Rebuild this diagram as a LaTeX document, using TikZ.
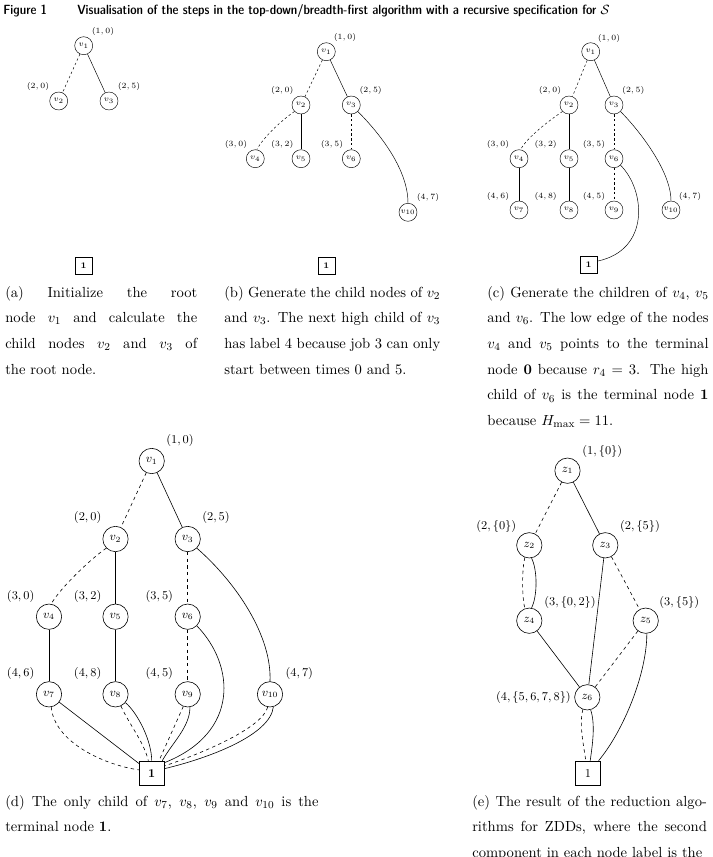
\documentclass[tikz,border=0pt]{standalone}
\usepackage{amsmath}
\begin{document}
\begin{tikzpicture}[x=0.75pt,y=-0.75pt,
  sv/.style={circle,draw,line width=0.35pt,minimum size=13.5pt,inner sep=0pt,font=\fontsize{6.4}{7}\selectfont},
  sl/.style={font=\fontsize{6.4}{7}\selectfont,inner sep=0pt},
  st/.style={draw,line width=0.35pt,minimum size=12.75pt,inner sep=0pt,font=\fontsize{6.4}{7}\selectfont\bfseries},
  bv/.style={circle,draw,line width=0.45pt,minimum size=19pt,inner sep=0pt,font=\fontsize{9}{10}\selectfont},
  bl/.style={font=\fontsize{9}{10}\selectfont,inner sep=0pt},
  bt/.style={draw,line width=0.45pt,minimum size=18.5pt,inner sep=0pt,font=\fontsize{9}{10}\selectfont},
  slo/.style={line width=0.35pt,dash pattern=on 1.8pt off 1.8pt},
  shi/.style={line width=0.35pt},
  blo/.style={line width=0.45pt,dash pattern=on 2.5pt off 2.5pt},
  bhi/.style={line width=0.45pt},
  captxt/.style={anchor=base west,inner sep=0pt,align=justify,font=\fontsize{10.95}{19.3}\selectfont},
  ttl/.style={anchor=base west,inner sep=0pt,font=\fontseries{sbc}\sffamily\fontsize{10}{12}\selectfont}
]
\useasboundingbox (0,0) rectangle (713,857);
\clip (0,0) rectangle (713,857);

% title
\node[ttl] (fig) at (3,14) {Figure 1};
\node[ttl] (title) at (77,14) {Visualisation of the steps in the top-down/breadth-first algorithm with a recursive specification for $\mathcal{S}$};

% ---------- panel (a)
\node[sv] (a1) at (83.7,45.7) {$v_1$};
\node[sv] (a2) at (58.7,101) {$v_2$};
\node[sv] (a3) at (109,101) {$v_3$};
\node[st] (aT) at (83.7,265.7) {1};
\node[sl] (la1) at (103,31) {$(1,0)$};
\node[sl] (la2) at (38,86.7) {$(2,0)$};
\node[sl] (la3) at (129,86.7) {$(2,5)$};
\draw[slo] (a1) -- (a2);
\draw[shi] (a1) -- (a3);

% ---------- panel (b)
\node[sv] (b1) at (326.3,51.7) {$v_1$};
\node[sv] (b2) at (301,105) {$v_2$};
\node[sv] (b3) at (351.3,105) {$v_3$};
\node[sv] (b4) at (255.3,158.7) {$v_4$};
\node[sv] (b5) at (301,158.7) {$v_5$};
\node[sv] (b6) at (351.3,158.7) {$v_6$};
\node[sv] (b10) at (408,212.3) {$v_{10}$};
\node[st] (bT) at (326.3,265.7) {1};
\node[sl] (lb1) at (345,37) {$(1,0)$};
\node[sl] (lb2) at (282.3,90.7) {$(2,0)$};
\node[sl] (lb3) at (370.7,90.7) {$(2,5)$};
\node[sl] (lb4) at (236,144) {$(3,0)$};
\node[sl] (lb5) at (282.3,144) {$(3,2)$};
\node[sl] (lb6) at (332,144) {$(3,5)$};
\node[sl] (lb10) at (428,197.7) {$(4,7)$};
\draw[slo] (b1) -- (b2);
\draw[shi] (b1) -- (b3);
\draw[slo] (b2.225) .. controls +(-12,8) and +(6,-12) .. (b4.80);
\draw[shi] (b2) -- (b5);
\draw[slo] (b3) -- (b6);
\draw[shi] (b3.-45) .. controls +(20,20) and +(0,-35) .. (b10.north);

% ---------- panel (c)
\node[sv] (c1) at (590.7,51.7) {$v_1$};
\node[sv] (c2) at (569,105) {$v_2$};
\node[sv] (c3) at (614,105) {$v_3$};
\node[sv] (c4) at (519,158.7) {$v_4$};
\node[sv] (c5) at (569,158.7) {$v_5$};
\node[sv] (c6) at (614,158.7) {$v_6$};
\node[sv] (c7) at (519,210) {$v_7$};
\node[sv] (c8) at (569,210) {$v_8$};
\node[sv] (c9) at (614,210) {$v_9$};
\node[sv] (c10) at (671,210) {$v_{10}$};
\node[st] (cT) at (588.7,264.3) {1};
\node[sl] (lc1) at (609,38.3) {$(1,0)$};
\node[sl] (lc2) at (550,90.3) {$(2,0)$};
\node[sl] (lc3) at (633.3,90.3) {$(2,5)$};
\node[sl] (lc4) at (498,144) {$(3,0)$};
\node[sl] (lc5) at (545.7,144) {$(3,2)$};
\node[sl] (lc6) at (594,144) {$(3,5)$};
\node[sl] (lc7) at (498,196.5) {$(4,6)$};
\node[sl] (lc8) at (545.7,196.5) {$(4,8)$};
\node[sl] (lc9) at (594,196.5) {$(4,5)$};
\node[sl] (lc10) at (690,196.5) {$(4,7)$};
\draw[slo] (c1) -- (c2);
\draw[shi] (c1) -- (c3);
\draw[slo] (c2.225) .. controls +(-12,8) and +(6,-12) .. (c4.80);
\draw[shi] (c2) -- (c5);
\draw[slo] (c3) -- (c6);
\draw[shi] (c3.-45) .. controls +(18,18) and +(0,-30) .. (c10.north);
\draw[shi] (c4) -- (c7);
\draw[shi] (c5) -- (c8);
\draw[slo] (c6) -- (c9);
\draw[shi] (c6.-45) .. controls +(25,25) and +(53,-11) .. (cT.20);

% ---------- captions (a)-(c)
\node[captxt,text width=144pt] (capa) at (5,297) {(a) Initialize the root\linebreak node $v_1$ and calculate the\linebreak child nodes $v_2$ and $v_3$ of\linebreak the root node.};
\node[captxt,text width=162pt] (capb) at (224,297) {(b) Generate the child nodes of $v_2$\linebreak and $v_3$. The next high child of $v_3$\linebreak has label 4 because job 3 can only\linebreak start between times 0 and 5.};
\node[captxt,text width=166pt] (capc) at (487,297) {(c) Generate the children of $v_4$, $v_5$\linebreak and $v_6$. The low edge of the nodes\linebreak $v_4$ and $v_5$ points to the terminal\linebreak node \textbf{0} because $r_4=3$. The high\linebreak child of $v_6$ is the terminal node \textbf{1}\linebreak because $H_{\max}=11$.};

% ---------- panel (d)
\node[bv] (d1) at (151.7,461) {$v_1$};
\node[bv] (d2) at (115.5,539) {$v_2$};
\node[bv] (d3) at (187.7,539) {$v_3$};
\node[bv] (d4) at (49,616.7) {$v_4$};
\node[bv] (d5) at (115.5,616.7) {$v_5$};
\node[bv] (d6) at (187.7,616.7) {$v_6$};
\node[bv] (d7) at (49,694.3) {$v_7$};
\node[bv] (d8) at (115.5,694.3) {$v_8$};
\node[bv] (d9) at (187.7,694.3) {$v_9$};
\node[bv] (d10) at (270,694.3) {$v_{10}$};
\node[bt] (dT) at (151.7,773.3) {\textbf{1}};
\node[bl] (ld1) at (180,440) {$(1,0)$};
\node[bl] (ld2) at (87.7,517.7) {$(2,0)$};
\node[bl] (ld3) at (216,517.7) {$(2,5)$};
\node[bl] (ld4) at (20.7,596) {$(3,0)$};
\node[bl] (ld5) at (87.7,596) {$(3,2)$};
\node[bl] (ld6) at (159.3,596) {$(3,5)$};
\node[bl] (ld7) at (20.7,673.7) {$(4,6)$};
\node[bl] (ld8) at (87.7,673.7) {$(4,8)$};
\node[bl] (ld9) at (159.3,673.7) {$(4,5)$};
\node[bl] (ld10) at (299.3,673.7) {$(4,7)$};
\draw[blo] (d1) -- (d2);
\draw[bhi] (d1) -- (d3);
\draw[blo] (d2.225) .. controls +(-15,10) and +(8,-15) .. (d4.80);
\draw[bhi] (d2) -- (d5);
\draw[blo] (d3) -- (d6);
\draw[bhi] (d3.-45) .. controls +(40,35) and +(2,-45) .. (d10.north);
\draw[bhi] (d4) -- (d7);
\draw[bhi] (d5) -- (d8);
\draw[blo] (d6) -- (d9);
\draw[bhi] (d6.-45) .. controls +(38,39) and +(76,-30) .. (dT.40);
\draw[blo] (d7.-80) .. controls +(3,35) and +(-35,-5) .. (dT.165);
\draw[bhi] (d7) -- (dT);
\draw[blo] (d8.-65) .. controls +(8,18) and +(-4,-18) .. (dT.105);
\draw[bhi] (d8.-40) .. controls +(12,10) and +(0,-20) .. (dT.north);
\draw[blo] (d9.-110) -- (dT.60);
\draw[bhi] (d9.-80) .. controls +(0,20) and +(10,-18) .. (dT.50);
\draw[blo] (d10.-100) .. controls +(-6,21) and +(41,-14) .. (dT.30);
\draw[bhi] (d10.-75) .. controls +(-3,28) and +(46,-11) .. (dT.20);
\node[captxt,text width=235pt] (capd) at (5,806) {(d) The only child of $v_7$, $v_8$, $v_9$ and $v_{10}$ is the\linebreak terminal node \textbf{1}.};

% ---------- panel (e)
\node[bv] (e1) at (567.5,470.7) {$z_1$};
\node[bv] (e2) at (529.3,545.3) {$z_2$};
\node[bv] (e3) at (605.3,545.3) {$z_3$};
\node[bv] (e4) at (529.3,620.7) {$z_4$};
\node[bv] (e5) at (645.7,620.7) {$z_5$};
\node[bv] (e6) at (587.3,697.3) {$z_6$};
\node[bt] (eT) at (588,773.3) {1};
\node[bl] (le1) at (602.3,451) {$(1,\{0\})$};
\node[bl] (le2) at (496.3,526.7) {$(2,\{0\})$};
\node[bl] (le3) at (640,526.7) {$(2,\{5\})$};
\node[bl] (le4) at (570,602.3) {$(3,\{0,2\})$};
\node[bl] (le5) at (679.3,602.3) {$(3,\{5\})$};
\node[bl,anchor=east] (le6) at (571,697.3) {$(4,\{5,6,7,8\})$};
\draw[blo] (e1) -- (e2);
\draw[bhi] (e1) -- (e3);
\draw[blo] (e2.250) .. controls +(-3,12) and +(-3,-12) .. (e4.110);
\draw[bhi] (e2.-80) .. controls +(6,12) and +(6,-12) .. (e4.80);
\draw[bhi] (e3) -- (e6);
\draw[blo] (e3) -- (e5);
\draw[bhi] (e4) -- (e6);
\draw[blo] (e5) -- (e6);
\draw[bhi] (e5.-85) .. controls +(0,40) and +(25,-30) .. (eT.50);
\draw[blo] (e6.-110) .. controls +(-4,15) and +(-2,-15) .. (eT.100);
\draw[bhi] (e6.-75) .. controls +(5,15) and +(2,-15) .. (eT.80);
\node[captxt,text width=176pt] (cape) at (472,806) {(e) The result of the reduction algo-\linebreak rithms for ZDDs, where the second\linebreak component in each node label is the};
\end{tikzpicture}
\end{document}
